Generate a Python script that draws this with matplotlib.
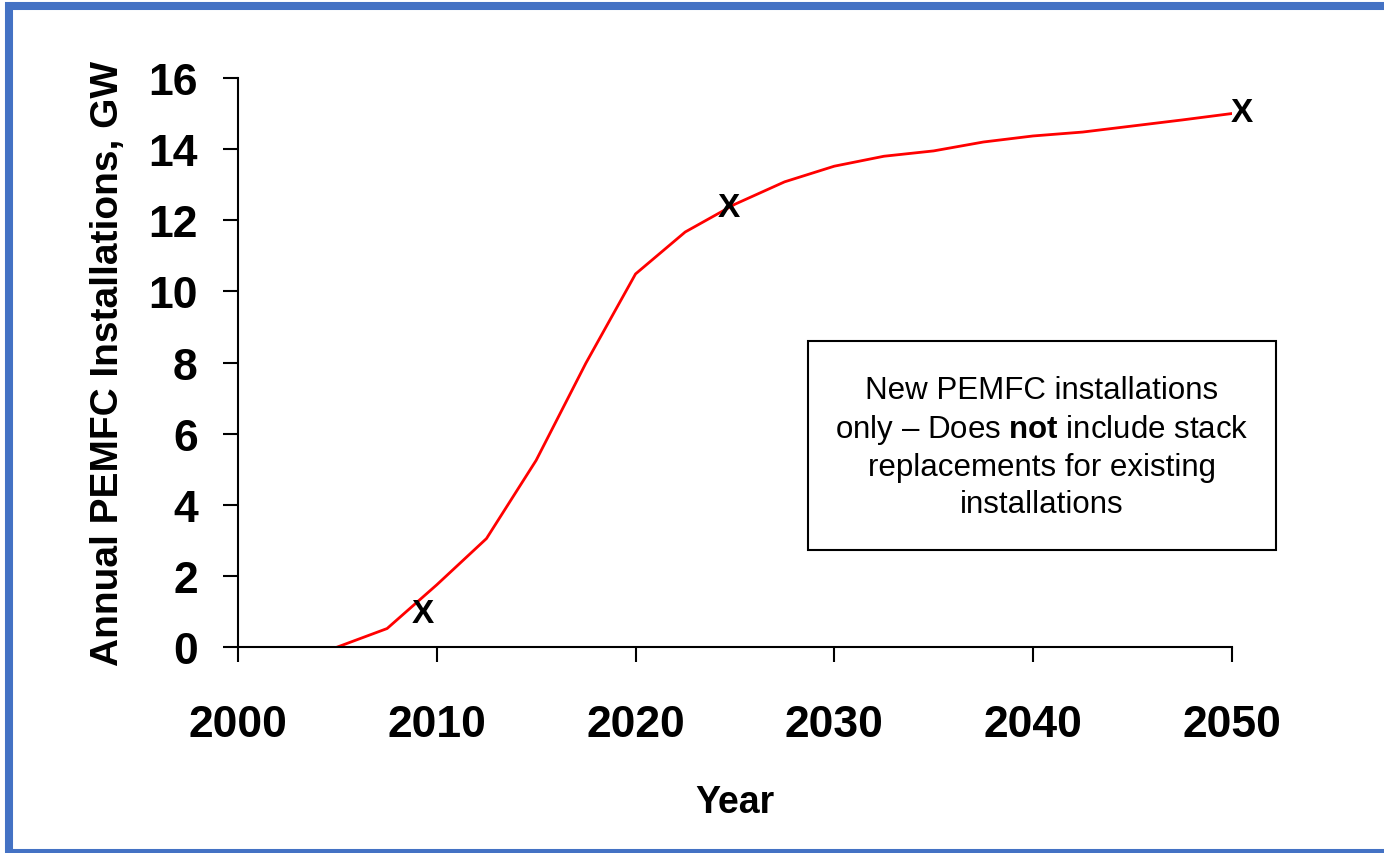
import matplotlib.pyplot as plt
from matplotlib.patches import Rectangle

plt.rcParams['font.family'] = ['Liberation Sans', 'DejaVu Sans']
plt.rcParams['mathtext.fontset'] = 'custom'
plt.rcParams['mathtext.rm'] = 'Liberation Sans'
plt.rcParams['mathtext.bf'] = 'Liberation Sans:bold'

years = [2005, 2007.5, 2010, 2012.5, 2015, 2017.5, 2020, 2022.5, 2025, 2027.5,
         2030, 2032.5, 2035, 2037.5, 2040, 2042.5, 2045, 2047.5, 2050]
gw = [0.0, 0.52, 1.75, 3.05, 5.25, 7.98, 10.49, 11.67, 12.45, 13.08,
      13.52, 13.8, 13.95, 14.2, 14.37, 14.48, 14.65, 14.82, 15.0]

# target points marked with X
x_years = [2009.3, 2024.7, 2050.5]
x_gw = [0.95, 12.37, 15.04]

fig = plt.figure(figsize=(13.84, 8.54), dpi=100)
ax = fig.add_axes([0.172, 0.2412, 0.718, 0.6663])

ax.plot(years, gw, color="red", lw=2)
for xv, yv in zip(x_years, x_gw):
    ax.text(xv, yv, "X", ha="center", va="center", fontsize=24, fontweight="heavy")

ax.set_xlim(2000, 2050)
ax.set_ylim(0, 16)
ax.set_xticks(range(2000, 2051, 10))
ax.set_yticks(range(0, 17, 2))
ax.tick_params(axis="both", labelsize=32, width=1.5, length=11, direction="out")
ax.tick_params(axis="x", pad=30)
ax.tick_params(axis="y", pad=18)
for lab in ax.get_xticklabels() + ax.get_yticklabels():
    lab.set_fontweight("bold")

ax.spines["top"].set_visible(False)
ax.spines["right"].set_visible(False)
ax.spines["left"].set_linewidth(1.5)
ax.spines["bottom"].set_linewidth(1.5)

ax.set_xlabel("Year", fontsize=27, fontweight="bold", labelpad=28)
ax.set_ylabel("Annual PEMFC Installations, GW", fontsize=28, fontweight="bold", labelpad=16)

# note box
fig.patches.append(Rectangle((808 / 1384, 1 - 551 / 854), 468 / 1384, 209 / 854,
                             transform=fig.transFigure, facecolor="white",
                             edgecolor="black", lw=1.5))
fig.text(1042 / 1384, 1 - 448 / 854,
         "New PEMFC installations\nonly \u2013 Does $\\mathbf{not}$ include stack\nreplacements for existing\ninstallations",
         ha="center", va="center", fontsize=22.5, linespacing=1.27)

fig.patches.append(Rectangle((9 / 1384, 0), 1377 / 1384, 847 / 854, transform=fig.transFigure,
                             fill=False, edgecolor="#4472C4", lw=5.8, clip_on=False))

fig.savefig("out.png", dpi=100)
